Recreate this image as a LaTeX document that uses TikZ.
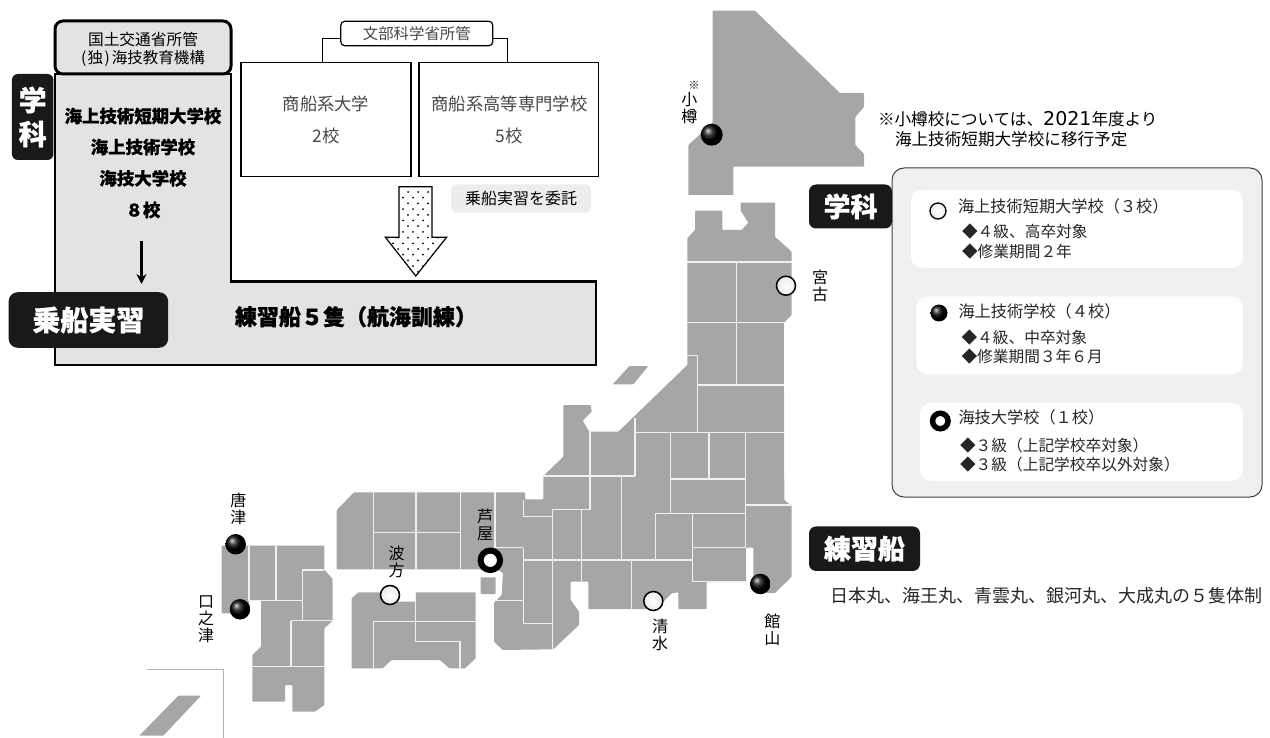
\documentclass[tikz,border=0pt]{standalone}
\usepackage{fontspec}
\usetikzlibrary{arrows.meta}
\setmainfont{Noto Sans CJK JP}[BoldFeatures={FakeBold=0.7}]
\newfontfamily\digitfont{DejaVu Sans}
\newcommand{\fs}[1]{\fontsize{#1}{#1}\selectfont}
\tikzset{
  tx/.style={inner sep=0pt,outer sep=0pt,text=black},
  thin text/.style={inner sep=0pt,outer sep=0pt,text=black!72},
  legend title/.style={inner sep=0pt,outer sep=0pt,text=black!85,font=\fs{16.2},anchor=west},
  legend item/.style={inner sep=0pt,outer sep=0pt,text=black!85,font=\fs{15.7},anchor=west},
  blackbox/.style={fill=black!90,rounded corners=7pt,inner sep=0pt,text=white,font=\bfseries},
  whitebox/.style={fill=white,rounded corners=11pt,inner sep=0pt,minimum height=78pt},
  plainbox/.style={draw=black,line width=1.2pt,fill=white,inner sep=0pt},
  conn/.style={draw=black,line width=1pt},
  land/.style={fill=black!35,rounded corners=0.8pt},
  pref/.style={draw=black!6,line width=1.1pt},
  blackdot/.style={circle,inner sep=0pt,minimum size=20.5pt,shading=ball,ball color=black},
  whitedot/.style={circle,inner sep=0pt,minimum size=19pt,draw=black,line width=1.5pt,inner color=white,outer color=black!8},
  ringdot/.style={circle,inner sep=0pt,minimum size=19.5pt,draw=black,line width=6pt,fill=white},
  place/.style={inner sep=0pt,align=center,font=\fs{16},text=black},
}
\begin{document}
\begin{tikzpicture}[x=1pt,y=-1pt]
\useasboundingbox (0,0) rectangle (1270,738);
% ---------- map ----------
% Hokkaido
\fill[land] (712.7,10.7)--(755,10.7)--(840,93)--(864,93)--(864,107)--(855.3,117)--(855.3,145)--(864,154)--(864,166.7)--(733.3,166.7)--(733.3,195)--(688.3,195)--(688.3,145)--(712.7,122.7)--cycle;
% Honshu
\fill[land] (687.3,238.3)--(695,230)--(695,210.7)--(722.3,210.7)--(722.3,230)--(741.7,230)--(748.3,222.7)--(740.7,210.7)--(740.7,202.7)--(775,202.7)--(775,236.7)--(791.7,251.7)--(791.7,315)--(783.8,322.7)--(784.3,500)--(791.7,506)--(791.7,576.7)--(775,593)--(766,593)--(753.3,580)--(753.3,547.7)--(746,547.7)--(746,582)--(706.7,582)--(706.7,609)--(678.3,609)--(678.3,592.3)--(671.7,593.3)--(660,605)--(650,609)--(588.3,609)--(588.3,581.7)--(570.7,581.7)--(570.7,600)--(579,611.7)--(579,625)--(553.3,649.3)--(502.7,650)--(494,641.7)--(494,602.7)--(501.7,595)--(503,573)--(497,569.3)--(336.7,569.3)--(336.7,510)--(354,492.3)--(525,492.3)--(525,499.3)--(543.3,499.3)--(543.3,476)--(563.3,456.7)--(563.3,405)--(590.7,405)--(591.7,411.7)--(582.7,420.7)--(589.3,431.7)--(618.3,431.7)--(687.3,365)--cycle;
% Sado, Awaji, Okinawa
\fill[land] (629.3,366)--(648.3,366)--(633.3,384.3)--(612.7,384.3)--cycle;
\fill[land] (480.7,577.3) rectangle (495.7,594);
\fill[land] (178.3,695.7)--(201,695.7)--(163.3,735.7)--(139.3,735.7)--cycle;
% Shikoku
\fill[land] (351.7,598.3)--(358.3,592.3)--(385,592.3)--(395,601.7)--(415.3,601.7)--(415.3,592.3)--(475.7,592.3)--(475.7,658.3)--(465,668.3)--(449.3,668.3)--(440,660)--(391.7,660)--(382.7,668.3)--(351.7,668.3)--cycle;
% Kyushu
\fill[land] (221.7,545.7)--(324.3,545.7)--(324.3,570)--(325,570.5)--(332.7,579)--(332.7,620.7)--(324.3,628.3)--(324.3,705)--(315,711.7)--(292.3,711.7)--(292.3,685)--(285,685)--(285,701.7)--(252.3,701.7)--(252.3,655)--(261,646.7)--(261,600.5)--(249,600.5)--(249,613.3)--(221.7,613.3)--cycle;
% prefecture borders: Tohoku
\draw[pref] (687.3,262)--(791.7,262) (736.7,262)--(736.7,385) (687.3,322.7)--(784,322.7) (687.3,355.7)--(697.7,355.7)--(697.7,432.3) (697.7,385)--(784,385);
\draw[pref] (635,418)--(635,476) (635,432.3)--(784,432.3) (543.3,476)--(635,476) (590,430)--(590,509.3)--(552.7,509.3)--(552.7,650) (523.3,500)--(523.3,516.7)--(552.7,516.7) (581.7,509.3)--(581.7,581.7) (621.7,476)--(621.7,560) (523.3,560)--(693.3,560) (523.3,548)--(523.3,623.3)--(552.7,623.3) (495,547.7)--(523.3,547.7) (495,600.7)--(523.3,600.7) (495,492.3)--(495,547.7) (631.7,560)--(631.7,609.3) (655.7,560)--(655.7,513.3)--(745.7,513.3) (670.7,432.3)--(670.7,513.3) (670.7,479)--(745.7,479) (709,432.3)--(709,479) (745.7,432.3)--(745.7,547.7) (745.7,505)--(791.7,505) (692.3,513.3)--(692.3,581.7)--(746.7,581.7) (692.3,547.7)--(745.7,547.7);
% Chugoku
\draw[pref] (373.3,492.3)--(373.3,569.3) (416,492.3)--(416,569.3) (460.3,492.3)--(460.3,569.3) (373.3,532.3)--(460.3,532.3);
% Shikoku
\draw[pref] (373.3,668.3)--(373.3,621.7)--(475.7,621.7) (415.7,592.3)--(415.7,641.7)--(460,641.7)--(460,668.3);
% Kyushu
\draw[pref] (249,545.7)--(249,600.5) (276,545.7)--(276,600.7) (249,600.7)--(303,600.7) (302.7,620.7)--(302.7,570)--(324.3,570) (291,620.7)--(332.7,620.7) (291,620.7)--(291,666.7) (252.3,666.7)--(324.3,666.7);
% inset line
\draw[black!30,line width=1.5pt] (146.7,669.3)--(223.3,669.3)--(223.3,738);
% ---------- map markers ----------
\node[blackdot,minimum size=22pt] (otaru) at (711.7,134.7) {};
\node[whitedot] (miyako) at (786,285.7) {};
\node[blackdot] (karatsu) at (235.7,544.3) {};
\node[blackdot] (kuchi) at (240,609.3) {};
\node[whitedot] (namikata) at (390,595) {};
\node[ringdot] (ashiya) at (490.3,560.3) {};
\node[whitedot] (shimizu) at (653.3,601) {};
\node[blackdot] (tateyama) at (760.3,584) {};
\node[place,font=\fs{11}] (note) at (694,85) {※};
\node[place] (lotaru) at (689.3,108.5) {小\\[1pt]樽};
\node[place] (lmiyako) at (820,286) {宮\\[1pt]古};
\node[place] (lkaratsu) at (238.3,509) {唐\\[1pt]津};
\node[place] (lkuchi) at (206,619) {口\\[1pt]之\\[1pt]津};
\node[place] (lnami) at (396.7,561.5) {波\\[1pt]方};
\node[place] (lashiya) at (485,525) {芦\\[1pt]屋};
\node[place] (lshimizu) at (660,635) {清\\[1pt]水};
\node[place] (ltate) at (772.3,629.5) {館\\[1pt]山};
% ---------- top-left panel ----------
\draw[black,line width=2.8pt,fill=black!11,line join=miter] (55,74)--(231,74)--(231,281.7)--(596,281.7)--(596,365)--(55,365)--cycle;
\node[draw=black,line width=3pt,fill=black!11,rounded corners=8pt,inner sep=0pt,minimum width=176pt,minimum height=53pt] (kokudo) at (143,47.5) {};
\node[tx,font=\fs{15.7}] (k1) at (143,40) {国土交通省所管};
\node[tx,font=\fs{15.5}] (k2) at (143,58.5) {(\kern1.5pt 独\kern1.5pt)\kern2pt 海技教育機構};
\node[tx,font=\bfseries\fs{17.4}] (b1) at (143,116) {海上技術短期大学校};
\node[tx,font=\bfseries\fs{17.4}] (b2) at (143,147) {海上技術学校};
\node[tx,font=\bfseries\fs{17.4}] (b3) at (143,178.3) {海技大学校};
\node[tx,font=\bfseries\fs{17.4}] (b4) at (143,210) {８校};
\coordinate (arrS) at (141.5,240.7);
\coordinate (arrE) at (141.5,284);
\draw[-{Stealth[length=10pt,width=10pt]},line width=2.4pt] (arrS)--(arrE);
\node[blackbox,rounded corners=6pt,minimum width=41.5pt,minimum height=86pt,align=center,font=\bfseries\fs{28}] (gakka1) at (32.7,117) {学\\[6pt]科};
\node[blackbox,rounded corners=9pt,minimum width=159.5pt,minimum height=55.5pt,font=\bfseries\fs{28}] (jousen) at (88.4,320) {乗船実習};
\node[tx,font=\bfseries\fs{22},anchor=west] (rensen) at (235,316.7) {練習船５隻（航海訓練）};
% MEXT boxes
\node[plainbox,rounded corners=4pt,minimum width=152pt,minimum height=24.5pt,thin text,font=\fs{15.4}] (mext) at (416.8,33.5) {文部科学省所管};
\node[plainbox,minimum width=170pt,minimum height=114pt] (univ) at (326,119.7) {};
\node[plainbox,minimum width=179.8pt,minimum height=114pt] (kosen) at (508.9,119.7) {};
\draw[conn] (mext.west |- 0,38.7) -| (univ.north -| 322,0);
\draw[conn] (mext.east |- 0,38.7) -| (kosen.north -| 507,0);
\node[thin text,font=\fs{17.3}] (u1) at (326,104) {商船系大学};
\node[thin text,font=\fs{17.3}] (u2) at (326,135.7) {2校};
\node[thin text,font=\fs{17.3}] (s1) at (509.5,104) {商船系高等専門学校};
\node[thin text,font=\fs{17.3}] (s2) at (509,135.7) {5校};
\node[fill=black!7,rounded corners=5pt,inner sep=0pt,minimum width=139.6pt,minimum height=28.4pt,tx,font=\fs{16}] (itaku) at (521,198.5) {乗船実習を委託};
% block arrow
\begin{scope}
\path[clip] (399,186.7)--(432,186.7)--(432,237.3)--(446.6,237.3)--(415.8,276)--(385.4,237.3)--(399,237.3)--cycle;
\foreach \i in {0,...,7}{
  \foreach \j in {0,...,6}{
    \fill[black] (388+\j*10,192+\i*11.4) circle (1);
    \fill[black] (393+\j*10,197.7+\i*11.4) circle (1);
  }
}
\end{scope}
\draw[black,line width=1.2pt,line join=miter] (399,186.7)--(432,186.7)--(432,237.3)--(446.6,237.3)--(415.8,276)--(385.4,237.3)--(399,237.3)--cycle;
% ---------- right panel ----------
\node[tx,font=\fs{16.6},anchor=west] (n1) at (878,119) {※小樽校については、{\digitfont\fs{19}2021}年度より};
\node[tx,font=\fs{16.6},anchor=west] (n2) at (895,139.5) {海上技術短期大学校に移行予定};
\node[draw=black!75,line width=1pt,fill=black!6,rounded corners=12pt,inner sep=0pt,minimum width=370pt,minimum height=329pt] (legend) at (1077,332.5) {};
\node[whitebox,minimum width=332pt] (w1) at (1077,229) {};
\node[whitebox,minimum width=326.5pt] (w2) at (1079.8,335.5) {};
\node[whitebox,minimum width=323pt] (w3) at (1081.5,441.8) {};
\node[blackbox,rounded corners=7pt,minimum width=83pt,minimum height=44pt,font=\bfseries\fs{27}] (gakka2) at (850.5,206.5) {学科};
\node[blackbox,rounded corners=7pt,minimum width=111pt,minimum height=44.5pt,font=\bfseries\fs{27}] (renshu) at (864.5,548.7) {練習船};
\node[whitedot,minimum size=16pt,line width=1.3pt] (lg1) at (938,211) {};
\node[blackdot,minimum size=17pt] (lg2) at (939,313) {};
\node[ringdot,minimum size=15.5pt,line width=5.5pt] (lg3) at (940.3,421) {};
\node[legend title] (t1) at (958,206) {海上技術短期大学校（３校）};
\node[legend item] (t1a) at (962,232) {◆４級、高卒対象};
\node[legend item] (t1b) at (962,251.5) {◆修業期間２年};
\node[legend title] (t2) at (958.5,311.6) {海上技術学校（４校）};
\node[legend item] (t2a) at (961.5,337.4) {◆４級、中卒対象};
\node[legend item] (t2b) at (961.5,356.3) {◆修業期間３年６月};
\node[legend title] (t3) at (958.5,417.5) {海技大学校（１校）};
\node[legend item] (t3a) at (960,445.7) {◆３級（上記学校卒対象）};
\node[legend item] (t3b) at (960,464.6) {◆３級（上記学校卒以外対象）};
\node[legend item,font=\fs{18}] (ships) at (830,596) {日本丸、海王丸、青雲丸、銀河丸、大成丸の５隻体制};
\end{tikzpicture}
\end{document}
